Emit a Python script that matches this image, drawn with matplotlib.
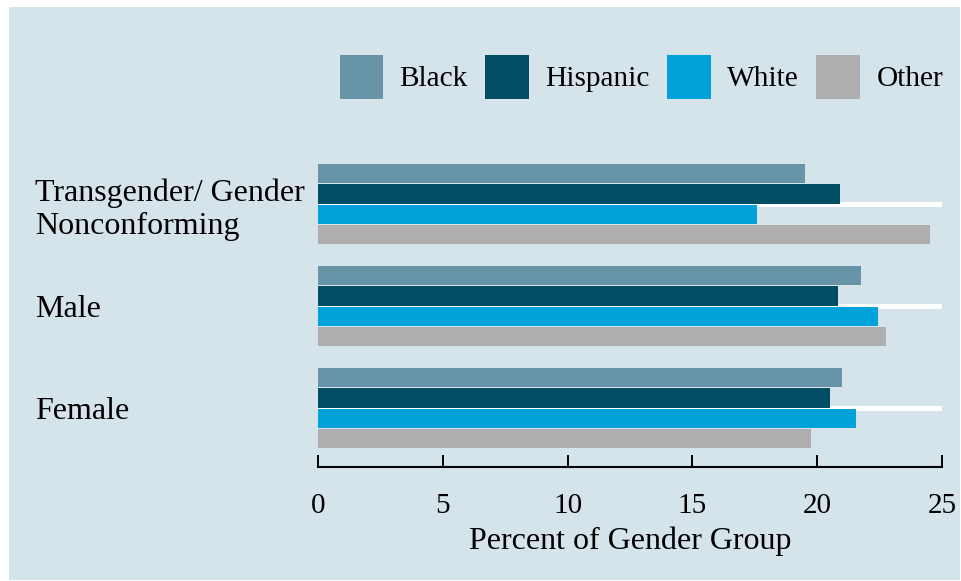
import numpy as np
import matplotlib.pyplot as plt
from matplotlib.patches import Rectangle

# data
groups = ['Female', 'Male', 'Transgender/ Gender\nNonconforming']
races = ['Black', 'Hispanic', 'White', 'Other']
black = [21.0, 21.75, 19.5]
hispanic = [20.5, 20.85, 20.9]
white = [21.55, 22.45, 17.6]
other = [19.75, 22.75, 24.5]
colors = ['#6794a7', '#014d64', '#01a2d9', '#aeaeae']

bg = '#d5e4eb'
plt.rcParams['font.family'] = ['Liberation Serif', 'DejaVu Serif']

fig = plt.figure(figsize=(9.61, 5.81), dpi=100, facecolor='white')
# light blue panel with a thin white margin
fig.patches.append(Rectangle((9 / 961, 1 - 580 / 581), 951 / 961, 573 / 581,
                             transform=fig.transFigure, facecolor=bg,
                             edgecolor='none', zorder=-5))

ax = fig.add_axes([318 / 961, 1 - 467 / 581, 624 / 961, 317 / 581])
ax.set_facecolor('none')

y = np.arange(len(groups))
offsets = [0.3, 0.1, -0.1, -0.3]
series = [black, hispanic, white, other]
for vals, off, c, name in zip(series, offsets, colors, races):
    ax.barh(y + off, vals, height=0.19, color=c, label=name, zorder=3)

ax.set_xlim(0, 25)
ax.set_ylim(-0.578, 2.53)
ax.set_xticks([0, 5, 10, 15, 20, 25])

# group label on the left, left-aligned
ax.set_yticks(y)
ax.set_yticklabels(groups, ha='left', fontsize=23, linespacing=1.17)
ax.tick_params(axis='y', length=0, pad=204)
ax.tick_params(axis='x', direction='in', length=8.5, width=1.4, labelsize=21, pad=19)

ax.grid(axis='y', color='white', linewidth=3.6, zorder=1)
ax.set_axisbelow(True)

for s in ['top', 'right', 'left']:
    ax.spines[s].set_visible(False)
ax.spines['bottom'].set_linewidth(1.5)

ax.set_xlabel('Percent of Gender Group', fontsize=23, labelpad=5)

handles, labels = ax.get_legend_handles_labels()
fig.legend(handles, labels, loc='center right', bbox_to_anchor=(943 / 961, 1 - 77 / 581),
           ncol=4, frameon=False, fontsize=21.2, handlelength=1.47, handleheight=1.89,
           handletextpad=0.56, columnspacing=0.6, borderpad=0, borderaxespad=0)

plt.savefig('out.png', dpi=100, facecolor='white')
